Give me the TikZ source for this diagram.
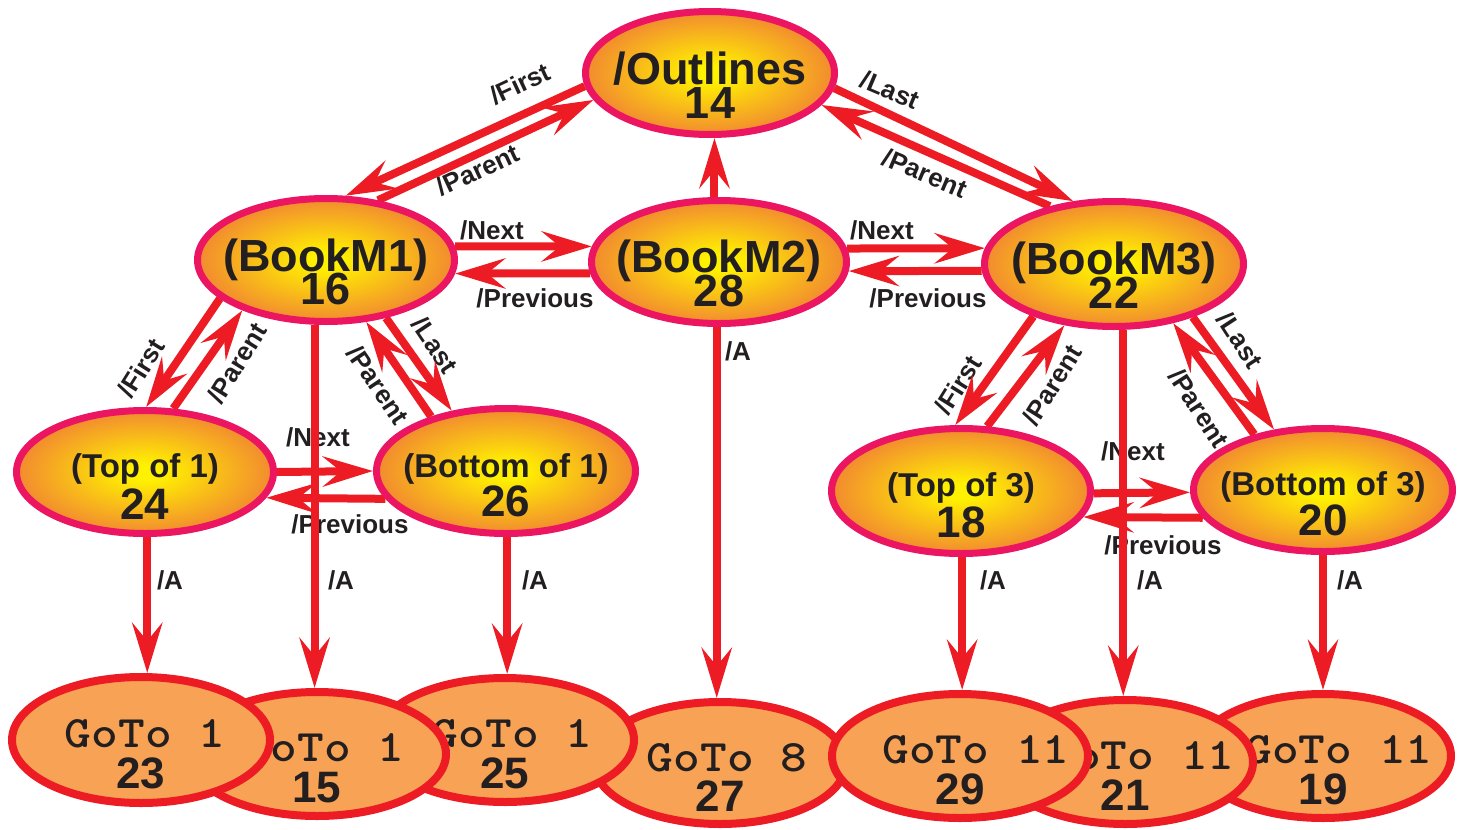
\documentclass[tikz,border=0pt]{standalone}
\usepackage{fontspec}
\usepackage{graphicx}
\usetikzlibrary{shapes.geometric,arrows.meta}
\newfontfamily\lsans{Liberation Sans}
\newcommand\lmono[2][14pt]{\hspace{#1}\scalebox{1.13}[1]{\ttfamily\bfseries #2}}
\definecolor{redc}{HTML}{ED1C24}
\definecolor{pinkb}{HTML}{EB1562}
\definecolor{yc}{HTML}{FFF200}
\definecolor{oc}{HTML}{F28A30}
\definecolor{gofill}{HTML}{F7A254}
\definecolor{tc}{HTML}{231F20}
\pgfdeclareradialshading{yoshade}{\pgfpoint{0bp}{0bp}}{color(0bp)=(yc); color(3bp)=(yc); color(25bp)=(oc); color(50bp)=(oc)}
\pgfdeclarelayer{bg}
\pgfsetlayers{bg,main}
\newcommand\twoln[6]{\makebox[0pt]{\raisebox{-#2pt}[0pt][0pt]{\fontsize{#1}{#1}\selectfont #3}}\makebox[0pt]{\raisebox{-#5pt}[0pt][0pt]{\fontsize{#4}{#4}\selectfont #6}}}
\tikzset{
  topnode/.style={ellipse, draw=pinkb, line width=7pt, shade, shading=yoshade, inner sep=0pt, text=tc, font=\lsans\bfseries},
  gotonode/.style={ellipse, draw=redc, line width=8pt, fill=gofill, inner sep=0pt, text=tc},
  arr/.style={draw=redc, line width=8pt, -{Stealth[length=50pt,width=30pt,inset=18pt]}},
  elab/.style={text=tc, font=\lsans\bfseries\fontsize{26}{26}\selectfont, inner sep=0pt},
}
\begin{document}
\begin{tikzpicture}[x=1pt,y=-1pt]
\useasboundingbox (0,0) rectangle (1460,830);
% upper nodes
\node[topnode, minimum width=249pt, minimum height=123pt] (o) at (710,73) {\twoln{45}{11}{/Outlines}{45}{45}{14}};
\node[topnode, minimum width=257pt, minimum height=123pt] (b1) at (326,260) {\twoln{45}{11}{(BookM1)}{45}{44}{16}};
\node[topnode, minimum width=255pt, minimum height=123pt] (b2) at (719,262) {\twoln{45}{10}{(BookM2)}{45}{44}{28}};
\node[topnode, minimum width=259pt, minimum height=125pt] (b3) at (1114,264) {\twoln{45}{10}{(BookM3)}{45}{44}{22}};
\node[topnode, minimum width=257pt, minimum height=123pt] (t1) at (145,472) {\twoln{33}{5}{(Top of 1)}{44}{47}{24}};
\node[topnode, minimum width=259pt, minimum height=125pt] (m1) at (506,471) {\twoln{33}{6}{(Bottom of 1)}{44}{45}{26}};
\node[topnode, minimum width=259pt, minimum height=125pt] (t3) at (961,491) {\twoln{33}{5}{(Top of 3)}{44}{46}{18}};
\node[topnode, minimum width=259pt, minimum height=123pt] (m3) at (1323,490) {\twoln{33}{5}{(Bottom of 3)}{44}{45}{20}};
% bottom nodes
\node[gotonode, minimum width=252pt, minimum height=122pt] (g27) at (720,763) {\twoln{45}{8}{\lmono{GoTo 8}}{44}{48}{\lsans\bfseries 27}};
\node[gotonode, minimum width=258pt, minimum height=124pt] (g25) at (505,740) {\twoln{45}{7}{\lmono{GoTo 1}}{44}{48}{\lsans\bfseries 25}};
\node[gotonode, minimum width=258pt, minimum height=124pt] (g15) at (317,754) {\twoln{45}{7}{\lmono{GoTo 1}}{44}{48}{\lsans\bfseries 15}};
\node[gotonode, minimum width=258pt, minimum height=126pt] (g23) at (141,740) {\twoln{45}{7}{\lmono[8pt]{GoTo 1}}{44}{48}{\lsans\bfseries 23}};
\node[gotonode, minimum width=256pt, minimum height=124pt] (g19) at (1323,756) {\twoln{45}{7}{\lmono[32pt]{GoTo 11}}{44}{48}{\lsans\bfseries 19}};
\node[gotonode, minimum width=256pt, minimum height=124pt] (g21) at (1125,762) {\twoln{45}{7}{\lmono[32pt]{GoTo 11}}{44}{48}{\lsans\bfseries 21}};
\node[gotonode, minimum width=256pt, minimum height=124pt] (g29) at (960,756) {\twoln{45}{7}{\lmono[32pt]{GoTo 11}}{44}{48}{\lsans\bfseries 29}};
\begin{pgfonlayer}{bg}
% labels
\node[elab, rotate=25] (l1) at (520,84) {/First};
\node[elab, rotate=25] (l2) at (478,170) {/Parent};
\node[elab, rotate=-23] (l3) at (890,90) {/Last};
\node[elab, rotate=-23] (l4) at (925,173) {/Parent};
\node[elab] (l5) at (492,230) {/Next};
\node[elab] (l6) at (535,298) {/Previous};
\node[elab] (l7) at (882,230) {/Next};
\node[elab] (l8) at (928,298) {/Previous};
\node[elab] (l9) at (738,351) {/A};
\node[elab, rotate=58] (l10) at (141,368) {/First};
\node[elab, rotate=58] (l11) at (237,363) {/Parent};
\node[elab, rotate=-56] (l12) at (435,345) {/Last};
\node[elab, rotate=-56] (l13) at (378,385) {/Parent};
\node[elab] (l14) at (318,437) {/Next};
\node[elab] (l15) at (350,524) {/Previous};
\node[elab] (l16) at (170,580) {/A};
\node[elab] (l17) at (341,580) {/A};
\node[elab] (l18) at (535,580) {/A};
\node[elab, rotate=58] (l19) at (958,385) {/First};
\node[elab, rotate=58] (l20) at (1052,385) {/Parent};
\node[elab, rotate=-57] (l21) at (1240,340) {/Last};
\node[elab, rotate=-57] (l22) at (1199,408) {/Parent};
\node[elab] (l23) at (1133,451) {/Next};
\node[elab] (l24) at (1163,545) {/Previous};
\node[elab] (l25) at (993,580) {/A};
\node[elab] (l26) at (1150,580) {/A};
\node[elab] (l27) at (1350,580) {/A};
% connectors
\draw[arr] (o.186) -- (b1.73);
\draw[arr] (b1.49) -- (o.193);
\draw[arr] (o.353) -- (b3.123);
\draw[arr] (b3.138) -- (o.344);
\draw[arr] (b2.94) -- (b2.94 |- o.south);
\draw[arr] (b1.6) -- (b2.173);
\draw[arr] (b2.185) -- (b1.354);
\draw[arr] (b2.6) -- (b3.173);
\draw[arr] (b3.183) -- (b2.356);
\draw[arr] (b2.268) -- (b2.268 |- g27.north);
\draw[arr] (b1.200) -- (t1.89);
\draw[arr] (t1.66) -- (b1.211);
\draw[arr] (b1.316) -- (m1.132);
\draw[arr] (m1.144) -- (b1.303);
\draw[arr] (b1.260) -- (b1.260 |- g15.north);
\draw[arr] (t1.0) -- (m1.180);
\draw[arr] (m1.193) -- (t1.348);
\draw[arr] (t1.272) -- (t1.272 |- g23.north);
\draw[arr] (m1.271) -- (m1.271 |- g25.north);
\draw[arr] (b3.213) -- (t3.95);
\draw[arr] (t3.68) -- (b3.231);
\draw[arr] (b3.326) -- (m3.129);
\draw[arr] (m3.141) -- (b3.315);
\draw[arr] (b3.278) -- (b3.278 |- g21.north);
\draw[arr] (t3.359) -- (m3.181);
\draw[arr] (m3.193) -- (t3.348);
\draw[arr] (t3.271) -- (t3.271 |- g29.north);
\draw[arr] (m3.south) -- (m3.south |- g19.north);
\end{pgfonlayer}
\end{tikzpicture}
\end{document}
